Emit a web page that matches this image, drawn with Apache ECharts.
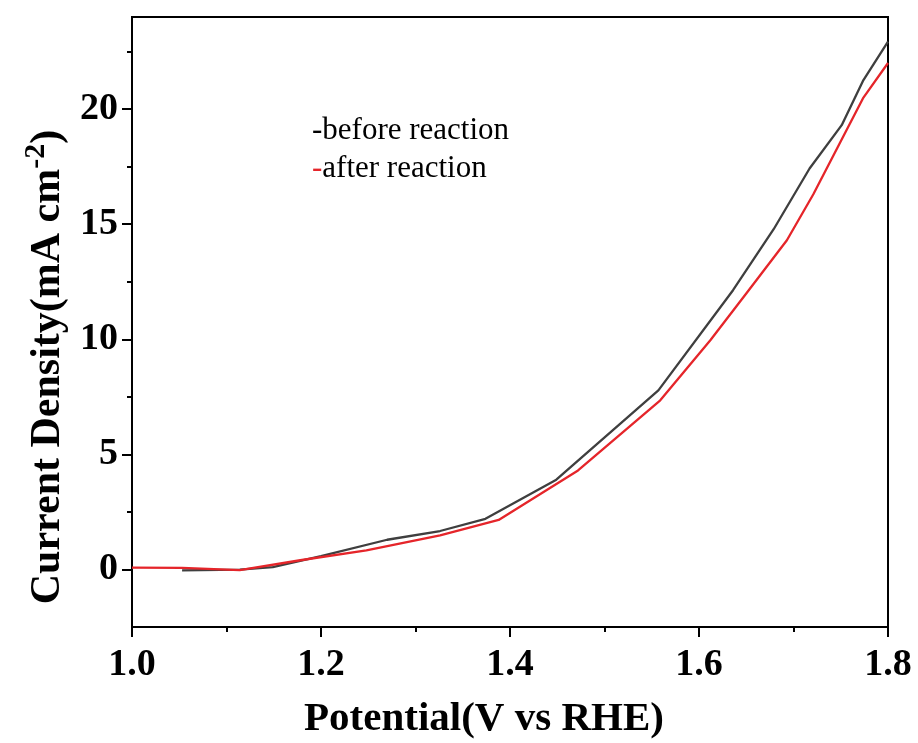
<!DOCTYPE html>
<html>
<head>
  <meta charset="utf-8">
  <title>Current Density vs Potential</title>
  <script src="https://cdn.jsdelivr.net/npm/echarts@6/dist/echarts.min.js"></script>
  <style>
    html, body { margin: 0; padding: 0; background: #fff; }
    #main { width: 918px; height: 743px; }
  </style>
</head>
<body>
  <div id="main"></div>
  <script>
    // values
    var beforeData = [
      [1.053, -0.04], [1.114, -0.01], [1.149, 0.10], [1.200, 0.58],
      [1.270, 1.29], [1.326, 1.67], [1.374, 2.20], [1.449, 3.90],
      [1.557, 7.78], [1.636, 12.13], [1.679, 14.78], [1.717, 17.42],
      [1.751, 19.30], [1.774, 21.26], [1.800, 22.93]
    ];
    var afterData = [
      [1.000, 0.08], [1.053, 0.07], [1.114, -0.03], [1.178, 0.40],
      [1.248, 0.83], [1.326, 1.48], [1.388, 2.15], [1.472, 4.30],
      [1.559, 7.35], [1.612, 9.96], [1.650, 11.99], [1.693, 14.30],
      [1.721, 16.30], [1.774, 20.50], [1.800, 22.00]
    ];
    var seriesNames = ['before reaction', 'after reaction'];
    var seriesColors = ['#3f3f3f', '#e5252a'];
    var xMajorTicks = [1.0, 1.2, 1.4, 1.6, 1.8];
    var xMinorTicks = [1.1, 1.3, 1.5, 1.7];
    var yMajorTicks = [0, 5, 10, 15, 20];
    var yMinorTicks = [2.5, 7.5, 12.5, 17.5, 22.5];

    var font = 'Liberation Serif';
    var myChart = echarts.init(document.getElementById('main'));

    var dashKeys = ['d0', 'd1'];

    option = {
      backgroundColor: '#fff',
      animation: false,
      grid: {
        left: 132, right: 30, top: 17, bottom: 116,
        outerBoundsMode: 'none', containLabel: false,
        show: true, borderColor: '#000', borderWidth: 2
      },
      legend: {
        orient: 'vertical',
        left: 301, top: 110,
        itemWidth: 0, itemHeight: 0, itemGap: 7,
        data: seriesNames,
        selectedMode: false,
        formatter: function (name) {
          var i = seriesNames.indexOf(name);
          return '{' + dashKeys[i] + '|-}{t|' + name + '}';
        },
        textStyle: {
          fontFamily: font, fontSize: 31, color: '#000', lineHeight: 31,
          rich: {
            d0: { fontFamily: font, fontSize: 31, color: '#000' },
            d1: { fontFamily: font, fontSize: 31, color: '#e5252a' },
            t: { fontFamily: font, fontSize: 31, color: '#000' }
          }
        }
      },
      xAxis: [{
        type: 'value', min: 1.0, max: 1.8,
        name: 'Potential(V vs RHE)',
        nameLocation: 'middle', nameGap: 72,
        nameTextStyle: { fontFamily: font, fontWeight: 'bold', fontSize: 41, color: '#000', padding: [0, 52, 0, 0] },
        axisLine: { show: true, onZero: false, lineStyle: { color: '#000', width: 2 } },
        axisTick: { show: true, length: 10, customValues: xMajorTicks, lineStyle: { color: '#000', width: 2 } },
        axisLabel: {
          customValues: xMajorTicks, margin: 19,
          fontFamily: font, fontWeight: 'bold', fontSize: 38, color: '#000',
          formatter: function (v) { return v.toFixed(1); }
        },
        splitLine: { show: false }
      }, {
        type: 'value', min: 1.0, max: 1.8, position: 'bottom',
        axisLine: { show: false, onZero: false },
        axisTick: { show: true, length: 5, customValues: xMinorTicks, lineStyle: { color: '#000', width: 2 } },
        axisLabel: { show: false },
        splitLine: { show: false }
      }],
      yAxis: [{
        type: 'value', min: -2.5, max: 24,
        name: '{t|Current Density(mA cm}{s|-2}{t|)}',
        nameLocation: 'middle', nameGap: 56, nameRotate: 90,
        nameTextStyle: {
          padding: [0, 90, 0, 0],
          rich: {
            t: { fontFamily: font, fontWeight: 'bold', fontSize: 42, color: '#000' },
            s: { fontFamily: font, fontWeight: 'bold', fontSize: 30, color: '#000', verticalAlign: 'top', padding: [0, 0, 24, 0] }
          }
        },
        axisLine: { show: true, onZero: false, lineStyle: { color: '#000', width: 2 } },
        axisTick: { show: true, length: 10, customValues: yMajorTicks, lineStyle: { color: '#000', width: 2 } },
        axisLabel: {
          customValues: yMajorTicks, margin: 14,
          fontFamily: font, fontWeight: 'bold', fontSize: 38, color: '#000'
        },
        splitLine: { show: false }
      }, {
        type: 'value', min: -2.5, max: 24, position: 'left',
        axisLine: { show: false, onZero: false },
        axisTick: { show: true, length: 5, customValues: yMinorTicks, lineStyle: { color: '#000', width: 2 } },
        axisLabel: { show: false },
        splitLine: { show: false }
      }],
      series: [{
        name: seriesNames[0], type: 'line', data: beforeData,
        xAxisIndex: 0, yAxisIndex: 0,
        showSymbol: false, symbol: 'none',
        lineStyle: { color: seriesColors[0], width: 2.3 },
        itemStyle: { color: seriesColors[0] }
      }, {
        name: seriesNames[1], type: 'line', data: afterData,
        xAxisIndex: 0, yAxisIndex: 0,
        showSymbol: false, symbol: 'none',
        lineStyle: { color: seriesColors[1], width: 2.3 },
        itemStyle: { color: seriesColors[1] }
      }]
    };

    myChart.setOption(option);
  </script>
</body>
</html>
